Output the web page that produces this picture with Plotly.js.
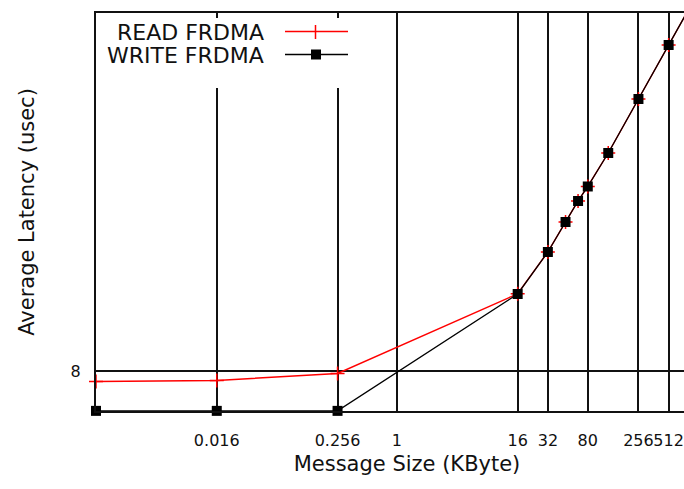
<!DOCTYPE html>
<html>
<head>
<meta charset="utf-8">
<script src="https://cdn.plot.ly/plotly-3.0.1.min.js"></script>
<style>
html,body{margin:0;padding:0;overflow:hidden;background:#fff;}
#chart{width:728px;height:489px;}
</style>
</head>
<body>
<div id="chart"></div>
<script>
// Message sizes (KByte)
const msgSize = [0.001, 0.016, 0.256, 16, 32, 48, 64, 80, 128, 256, 512, 1024];
// Average latency (usec)
const readLatency  = [6.99, 7.08, 7.75, 21.6, 37.0, 54.4, 71.3, 85.9, 132.1, 264.7, 530.1, 1060];
const writeLatency = [4.79, 4.79, 4.79, 21.54, 36.98, 54.39, 71.26, 85.88, 132.1, 264.7, 530.1, 1060];
const xTickVals = [0.016, 0.256, 1, 16, 32, 80, 256, 512];
const xTickText = ['0.016', '0.256', '1', '16', '32', '80', '256', '512'];
const yTickVals = [8];
const yTickText = ['8'];
const seriesNames = ['READ FRDMA', 'WRITE FRDMA'];

const W = 728, H = 489;
const M = {l: 96, r: 10, t: 13, b: 78};
const PW = W - M.l - M.r, PH = H - M.t - M.b;
const px = x => (x - M.l) / PW;
const py = y => (H - M.b - y) / PH;
const FONT = 'DejaVu Sans, Liberation Sans, Arial, sans-serif';
const TXT = '#111';

const traces = [
  {
    x: msgSize, y: readLatency, name: seriesNames[0], type: 'scatter', mode: 'lines+markers',
    line: {color: '#ff0000', width: 1.4},
    marker: {symbol: 'cross-thin-open', size: 10, color: '#ff0000', line: {color: '#ff0000', width: 1.5}},
    cliponaxis: false, showlegend: false
  },
  {
    x: msgSize, y: writeLatency, name: seriesNames[1], type: 'scatter', mode: 'lines+markers',
    line: {color: '#000000', width: 1.3},
    marker: {symbol: 'square', size: 10, color: '#000000'},
    cliponaxis: false, showlegend: false
  }
];

const ymin = Math.log10(4.782);
const layout = {
  width: W, height: H,
  margin: M,
  paper_bgcolor: '#fff', plot_bgcolor: '#fff',
  font: {family: FONT, color: TXT, size: 16},
  showlegend: false,
  xaxis: {
    type: 'log', range: [-3, -3 + PW / 100.3], autorange: false,
    tickvals: xTickVals, ticktext: xTickText, tickangle: 0,
    showgrid: true, gridcolor: '#111', gridwidth: 2,
    showline: true, linecolor: '#111', linewidth: 2, mirror: true,
    ticks: '', tickfont: {size: 16, family: FONT, color: TXT},
    ticklabelstandoff: 14,
    zeroline: false, automargin: false,
    title: {text: 'Message Size (KByte)', font: {size: 21, family: FONT, color: TXT}, standoff: 7}
  },
  yaxis: {
    type: 'log', range: [ymin, ymin + PH / 179], autorange: false,
    tickvals: yTickVals, ticktext: yTickText,
    showgrid: true, gridcolor: '#111', gridwidth: 2,
    showline: true, linecolor: '#111', linewidth: 2, mirror: true,
    ticks: 'inside', ticklen: 5, tickcolor: '#111', tickwidth: 1.5,
    tickfont: {size: 16, family: FONT, color: TXT},
    ticklabelstandoff: 10,
    zeroline: false, automargin: false,
    title: {text: 'Average Latency (usec)', font: {size: 21, family: FONT, color: TXT}, standoff: 30}
  },
  shapes: [
    // key box background
    {type: 'rect', xref: 'paper', yref: 'paper', x0: px(99), x1: px(362), y0: py(18), y1: py(88),
     fillcolor: '#fff', line: {width: 0}, layer: 'above'},
    // READ key sample
    {type: 'line', xref: 'paper', yref: 'paper', x0: px(285), x1: px(348), y0: py(31.5), y1: py(31.5),
     line: {color: '#ff0000', width: 1.5}, layer: 'above'},
    {type: 'line', xref: 'paper', yref: 'paper', x0: px(315.5), x1: px(315.5), y0: py(25), y1: py(39),
     line: {color: '#ff0000', width: 1.5}, layer: 'above'},
    // WRITE key sample
    {type: 'line', xref: 'paper', yref: 'paper', x0: px(285), x1: px(348), y0: py(54.5), y1: py(54.5),
     line: {color: '#000', width: 1.5}, layer: 'above'},
    {type: 'rect', xref: 'paper', yref: 'paper', x0: px(311), x1: px(321), y0: py(49.5), y1: py(59.5),
     fillcolor: '#000', line: {width: 0}, layer: 'above'}
  ],
  annotations: [
    {text: seriesNames[0], xref: 'paper', yref: 'paper', x: px(266), y: py(32), xanchor: 'right', yanchor: 'middle',
     showarrow: false, font: {size: 22, family: FONT, color: TXT}},
    {text: seriesNames[1], xref: 'paper', yref: 'paper', x: px(266), y: py(55), xanchor: 'right', yanchor: 'middle',
     showarrow: false, font: {size: 22, family: FONT, color: TXT}}
  ]
};

Plotly.newPlot('chart', traces, layout, {displayModeBar: false, staticPlot: true});
</script>
</body>
</html>
